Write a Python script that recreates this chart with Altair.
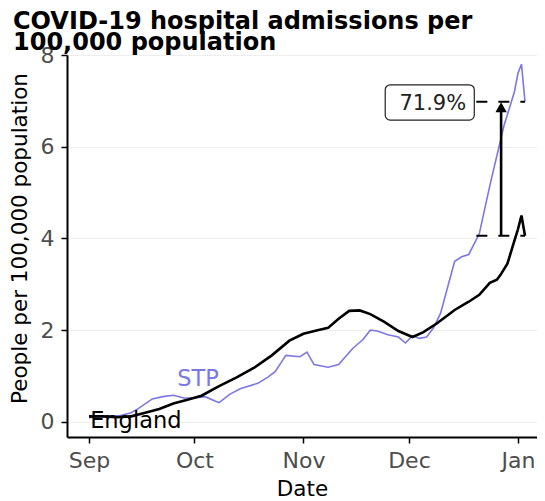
import altair as alt
import pandas as pd

FONT = "DejaVu Sans"
BLUE = "#7b78e6"

eng_dates = ["2020-09-01", "2020-09-05", "2020-09-09", "2020-09-13", "2020-09-17",
             "2020-09-21", "2020-09-25", "2020-09-29", "2020-10-03", "2020-10-08",
             "2020-10-13", "2020-10-18", "2020-10-23", "2020-10-28", "2020-11-01",
             "2020-11-05", "2020-11-08", "2020-11-11", "2020-11-14", "2020-11-17",
             "2020-11-20", "2020-11-24", "2020-11-28", "2020-12-02", "2020-12-05",
             "2020-12-09", "2020-12-14", "2020-12-18", "2020-12-21", "2020-12-24",
             "2020-12-26", "2020-12-27", "2020-12-29", "2020-12-31", "2021-01-01",
             "2021-01-02", "2021-01-03"]
eng_values = [0.12, 0.12, 0.10, 0.12, 0.20,
              0.28, 0.40, 0.48, 0.57, 0.78,
              0.97, 1.18, 1.45, 1.77, 1.92,
              2.00, 2.05, 2.25, 2.42, 2.43,
              2.35, 2.18, 1.98, 1.85, 1.95,
              2.15, 2.44, 2.62, 2.77, 3.03,
              3.10, 3.20, 3.45, 3.95, 4.20,
              4.50, 4.06]

stp_dates = ["2020-09-01", "2020-09-05", "2020-09-10", "2020-09-13", "2020-09-15",
             "2020-09-19", "2020-09-22", "2020-09-25", "2020-09-28", "2020-10-01",
             "2020-10-04", "2020-10-07", "2020-10-08", "2020-10-11", "2020-10-14",
             "2020-10-19", "2020-10-22", "2020-10-24", "2020-10-27", "2020-10-31",
             "2020-11-02", "2020-11-04", "2020-11-08", "2020-11-11", "2020-11-15",
             "2020-11-18", "2020-11-20", "2020-11-22", "2020-11-25", "2020-11-28",
             "2020-11-30", "2020-12-02", "2020-12-04", "2020-12-06", "2020-12-08",
             "2020-12-10", "2020-12-14", "2020-12-16", "2020-12-18", "2020-12-21",
             "2020-12-24", "2020-12-28", "2020-12-31", "2021-01-01", "2021-01-02",
             "2021-01-03"]
stp_values = [0.09, 0.12, 0.14, 0.20, 0.29,
              0.50, 0.55, 0.58, 0.52, 0.52,
              0.55, 0.45, 0.42, 0.60, 0.72,
              0.84, 0.98, 1.10, 1.45, 1.42,
              1.52, 1.25, 1.19, 1.25, 1.60,
              1.80, 2.00, 1.98, 1.90, 1.85,
              1.72, 1.88, 1.82, 1.85, 2.05,
              2.37, 3.50, 3.60, 3.65, 4.10,
              5.15, 6.45, 7.20, 7.60, 7.80,
              6.98]

y_ticks = [0, 2, 4, 6, 8]
month_ticks = [(2020, 9), (2020, 10), (2020, 11), (2020, 12), (2021, 1)]

# annotation
pct_label = "71.9%"
label_box = {"x": "2020-11-24T06:00", "x2": "2020-12-19T14:00", "y": 6.58, "y2": 7.35}
label_text_pos = {"x": "2020-12-07T19:00", "y": 6.80}
dash_start = "2020-12-20T04:00"
arrow_date = "2020-12-27T05:00"
arrow_tip = 6.86
series_labels = pd.DataFrame({
    "date": pd.to_datetime(["2020-09-01T08:00", "2020-10-02T00:00"]),
    "value": [-0.13, 0.785],
    "label": ["England", "STP"],
})

eng = pd.DataFrame({"date": pd.to_datetime(eng_dates), "value": eng_values})
stp = pd.DataFrame({"date": pd.to_datetime(stp_dates), "value": stp_values})

last_date = pd.to_datetime(eng_dates[-1])
dashes = pd.DataFrame({
    "date": [pd.to_datetime(dash_start)] * 2,
    "date2": [last_date] * 2,
    "value": [eng_values[-1], stp_values[-1]],
})
arrow = pd.DataFrame({"date": [pd.to_datetime(arrow_date)], "value": [eng_values[-1]],
                      "value2": [arrow_tip - 0.1]})
arrow_head = pd.DataFrame({"date": [pd.to_datetime(arrow_date)], "value": [arrow_tip]})
box = pd.DataFrame({"date": [pd.to_datetime(label_box["x"])], "date2": [pd.to_datetime(label_box["x2"])],
                    "value": [label_box["y"]], "value2": [label_box["y2"]]})
pct = pd.DataFrame({"date": [pd.to_datetime(label_text_pos["x"])], "value": [label_text_pos["y"]],
                    "label": [pct_label]})

x_scale = alt.Scale(domain=[alt.DateTime(year=2020, month=8, date=25, hours=18),
                            alt.DateTime(year=2021, month=1, date=6, hours=10)])
y_scale = alt.Scale(domain=[-0.33, 8], nice=False, zero=False)

x_axis = alt.Axis(
    values=[alt.DateTime(year=y, month=m, date=1) for y, m in month_ticks],
    format="%b", title="Date", labelFont=FONT, labelFontSize=22, labelColor="#4d4d4d",
    labelPadding=7, tickSize=6, tickColor="black", tickWidth=1.5,
    domainColor="black", domainWidth=2, grid=False,
    titleFont=FONT, titleFontSize=21.5, titleFontWeight="normal", titleColor="black",
    titleBaseline="alphabetic", titleY=58,
)
y_axis = alt.Axis(
    values=y_ticks, title="People per 100,000 population", labelFont=FONT, labelFontSize=22,
    labelColor="#4d4d4d", labelPadding=7, tickSize=6, tickColor="black", tickWidth=1.5,
    domainColor="black", domainWidth=2, grid=True, gridColor="#eeeeee", gridWidth=1,
    titleFont=FONT, titleFontSize=21.5, titleFontWeight="normal", titleColor="black",
    titleBaseline="alphabetic", titleAngle=270, titleX=-41, titleY=183, titleAlign="center",
)

X = alt.X("date:T", scale=x_scale, axis=x_axis, title="Date")
Y = alt.Y("value:Q", scale=y_scale, axis=y_axis, title="People per 100,000 population")

stp_line = alt.Chart(stp).mark_line(color=BLUE, strokeWidth=1.6, clip=True).encode(x=X, y=Y)
eng_line = alt.Chart(eng).mark_line(color="black", strokeWidth=2.6, clip=True).encode(x=X, y=Y)

dash_rules = alt.Chart(dashes).mark_rule(color="black", strokeWidth=2, strokeDash=[11, 11]).encode(
    x=X, x2="date2:T", y=Y)
arrow_rule = alt.Chart(arrow).mark_rule(color="black", strokeWidth=2.6).encode(
    x=X, y=Y, y2="value2:Q")
arrow_pt = alt.Chart(arrow_head).mark_point(shape="triangle-up", filled=True, color="black",
                                            size=130, opacity=1).encode(x=X, y=Y)
box_rect = alt.Chart(box).mark_rect(fill="white", stroke="#222222", strokeWidth=1.2,
                                    cornerRadius=5).encode(x=X, x2="date2:T", y=Y, y2="value2:Q")
pct_text = alt.Chart(pct).mark_text(font=FONT, fontSize=21, color="#222222", align="center",
                                    baseline="alphabetic").encode(x=X, y=Y, text="label:N")

eng_label = alt.Chart(series_labels.iloc[[0]]).mark_text(
    font=FONT, fontSize=22.5, color="black", align="left", baseline="alphabetic").encode(
    x=X, y=Y, text="label:N")
stp_label = alt.Chart(series_labels.iloc[[1]]).mark_text(
    font=FONT, fontSize=22.5, color=BLUE, align="center", baseline="alphabetic").encode(
    x=X, y=Y, text="label:N")

chart = alt.layer(
    stp_line, eng_line, dash_rules, arrow_rule, arrow_pt, box_rect, pct_text, eng_label, stp_label
).properties(
    width=470, height=382,
    title=alt.TitleParams(
        text=["COVID-19 hospital admissions per", "100,000 population"],
        font=FONT, fontSize=24, fontWeight="bold", color="black", anchor="start",
        lineHeight=21, baseline="alphabetic", offset=6, dx=4, dy=36,
    ),
    autosize=alt.AutoSizeParams(type="none"),
    padding={"left": 59, "top": 47, "right": 0, "bottom": 62},
).configure_view(strokeWidth=0).configure(background="white")

chart.save("out.html", embed_options={"renderer": "svg", "actions": False})
